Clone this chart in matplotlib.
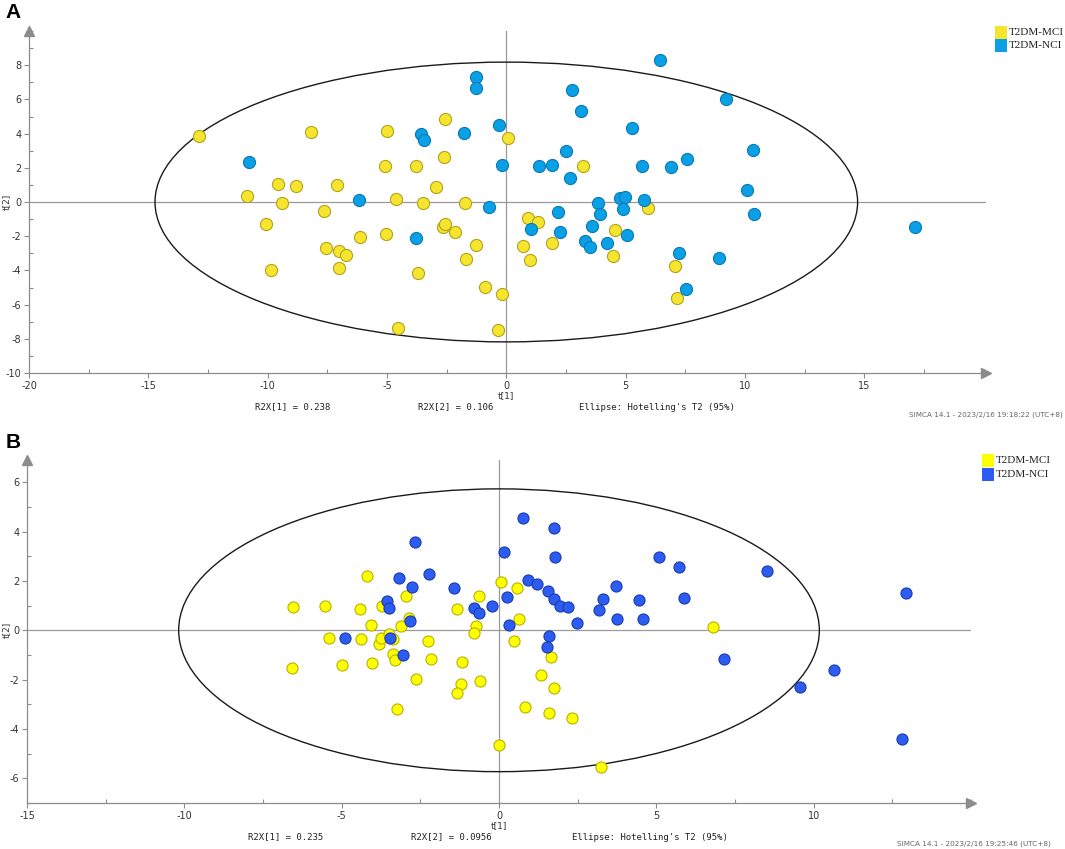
import numpy as np
import matplotlib
matplotlib.use("Agg")
import matplotlib.pyplot as plt
from matplotlib.patches import Ellipse, Rectangle
from matplotlib.ticker import MultipleLocator

plt.rcParams["axes.unicode_minus"] = False

W, H = 1065, 849

# ---- panel A scores (t[1], t[2]) ----
a_mci_t1 = [-12.87, -8.18, -10.88, -9.58, -8.83, -9.38, -7.10, -7.65, -10.06, -9.84,
            -7.54, -7.03, -6.71, -7.00, -6.12, -4.99, -5.09, -5.04, -4.61, -4.55,
            -3.79, -3.49, -3.72, -2.95, -2.58, -2.61, -2.64, -2.56, -2.16, -1.74,
            -1.69, -1.28, -0.91, -0.16, -0.33, 0.08, 0.90, 1.34, 0.70, 1.01,
            1.92, 3.20, 4.57, 4.47, 5.92, 7.05, 7.16]
a_mci_t2 = [3.84, 4.09, 0.33, 1.05, 0.95, -0.04, 1.01, -0.50, -1.26, -3.95,
            -2.69, -2.87, -3.08, -3.86, -2.03, 4.13, 2.13, -1.88, 0.16, -7.36,
            2.09, -0.08, -4.17, 0.85, 4.88, 2.66, -1.45, -1.30, -1.74, -0.08,
            -3.35, -2.50, -4.96, -5.39, -7.46, 3.76, -0.95, -1.16, -2.56, -3.39,
            -2.40, 2.09, -1.61, -3.16, -0.37, -3.72, -5.62]
a_nci_t1 = [-10.78, -6.18, -3.56, -3.44, -3.79, -1.25, -1.25, -1.79, -0.30, -0.16,
            -0.71, 1.05, 1.38, 1.92, 2.50, 2.65, 2.77, 3.14, 2.17, 2.23,
            3.28, 3.52, 3.59, 3.83, 3.94, 4.23, 4.78, 4.99, 4.87, 5.05,
            5.28, 5.67, 5.76, 6.44, 6.92, 7.59, 7.23, 7.55, 8.92, 9.22,
            10.08, 10.35, 10.39, 17.14]
a_nci_t2 = [2.31, 0.10, 3.97, 3.60, -2.13, 7.29, 6.65, 4.03, 4.50, 2.19,
            -0.29, -1.60, 2.09, 2.19, 2.98, 1.38, 6.53, 5.31, -0.56, -1.74,
            -2.27, -2.64, -1.41, -0.04, -0.70, -2.42, 0.23, 0.27, -0.43, -1.94,
            4.30, 2.09, 0.14, 8.33, 2.03, 2.52, -2.98, -5.10, -3.29, 6.01,
            0.68, 3.02, -0.70, -1.47]

# ---- panel B scores ----
b_mci_t1 = [-6.55, -6.59, -5.52, -5.41, -4.98, -4.43, -4.38, -4.18, -4.08, -4.03,
            -3.72, -3.80, -3.76, -3.50, -3.36, -3.37, -3.31, -3.25, -3.12, -2.95,
            -2.87, -2.65, -2.25, -2.15, -1.32, -1.19, -1.22, -1.34, -0.74, -0.80,
            -0.62, -0.59, 0.06, 0.01, 0.57, 0.65, 0.47, 0.83, 1.35, 1.65,
            1.75, 1.59, 2.32, 6.81, 3.24]
b_mci_t2 = [0.93, -1.52, 0.97, -0.30, -1.40, 0.87, -0.37, 2.20, 0.23, -1.33,
            0.97, -0.57, -0.30, -0.16, -0.37, -0.97, -1.22, -3.18, 0.19, 1.40,
            0.50, -1.96, -0.44, -1.16, 0.87, -1.27, -2.19, -2.56, 0.16, -0.10,
            1.37, -2.05, 1.96, -4.64, 1.73, 0.44, -0.44, -3.12, -1.80, -1.09,
            -2.35, -3.35, -3.54, 0.14, -5.56]
b_nci_t1 = [-4.89, -3.56, -3.50, -3.45, -3.18, -3.05, -2.84, -2.76, -2.67, -2.21,
            -1.42, -0.78, -0.62, -0.21, 0.17, 0.25, 0.32, 0.76, 0.93, 1.20,
            1.75, 1.77, 1.57, 1.75, 1.94, 2.20, 2.49, 1.59, 1.51, 3.18,
            3.30, 3.72, 3.74, 4.44, 4.58, 5.08, 5.73, 5.89, 7.14, 8.52,
            9.57, 10.66, 12.82, 12.95]
b_nci_t2 = [-0.30, 1.17, 0.90, -0.33, 2.10, -0.99, 0.37, 1.76, 3.59, 2.26,
            1.73, 0.90, 0.71, 0.97, 3.18, 1.33, 0.20, 4.56, 2.05, 1.89,
            4.15, 2.97, 1.59, 1.27, 0.99, 0.93, 0.30, -0.23, -0.67, 0.83,
            1.27, 1.80, 0.46, 1.24, 0.46, 2.97, 2.56, 1.29, -1.16, 2.39,
            -2.31, -1.62, -4.41, 1.50]

groups = ["T2DM-MCI", "T2DM-NCI"]
a_xticks = [-20, -15, -10, -5, 0, 5, 10, 15]
a_yticks = [-10, -8, -6, -4, -2, 0, 2, 4, 6, 8]
b_xticks = [-15, -10, -5, 0, 5, 10]
b_yticks = [-6, -4, -2, 0, 2, 4, 6]

panels = [
    dict(letter="A", mci=(a_mci_t1, a_mci_t2), nci=(a_nci_t1, a_nci_t2),
         xlim=(-20, 20.1), ylim=(-10, 10), xt=a_xticks, yt=a_yticks, ell=(14.72, 8.18),
         box=(29, 986, 373, 31), ms=76,
         cols=[("#f6e52e", "#b3a21c"), ("#0aa0e6", "#0a78b4")],
         r2x=("R2X[1] = 0.238", "R2X[2] = 0.106"), stamp="SIMCA 14.1 - 2023/2/16 19:18:22 (UTC+8)",
         txt_y=407, txt_x=(293, 456, 657), stamp_xy=(1063, 415), leg=(995, 26, 13)),
    dict(letter="B", mci=(b_mci_t1, b_mci_t2), nci=(b_nci_t1, b_nci_t2),
         xlim=(-15, 15), ylim=(-7, 6.9), xt=b_xticks, yt=b_yticks, ell=(10.18, 5.73),
         box=(27, 971, 803, 460), ms=64,
         cols=[("#ffff00", "#b5b300"), ("#2c5cf2", "#1a3cae")],
         r2x=("R2X[1] = 0.235", "R2X[2] = 0.0956"), stamp="SIMCA 14.1 - 2023/2/16 19:25:46 (UTC+8)",
         txt_y=837, txt_x=(286, 451, 650), stamp_xy=(1051, 844), leg=(982, 454, 14)),
]

fig = plt.figure(figsize=(W / 100, H / 100), dpi=100)

def fx(x):
    return x / W

def fy(y):
    return 1 - y / H

for p in panels:
    x0, x1, yb, yt = p["box"]
    ax = fig.add_axes([fx(x0), fy(yb), fx(x1) - fx(x0), fy(yt) - fy(yb)])
    ax.set_xlim(*p["xlim"])
    ax.set_ylim(*p["ylim"])
    for s in ["top", "right"]:
        ax.spines[s].set_visible(False)
    for s in ["left", "bottom"]:
        ax.spines[s].set_color("#8c8c8c")
        ax.spines[s].set_linewidth(0.9)
    # axis arrows
    ax.plot(1, p["ylim"][0], ">", color="#8c8c8c", ms=6.5, transform=ax.get_yaxis_transform(), clip_on=False)
    ax.plot(p["xlim"][0], 1, "^", color="#8c8c8c", ms=6.5, transform=ax.get_xaxis_transform(), clip_on=False)

    ax.axhline(0, color="#9a9a9a", lw=0.9, zorder=1)
    ax.axvline(0, color="#9a9a9a", lw=0.9, zorder=1)

    ax.set_xticks(p["xt"])
    ax.set_yticks(p["yt"])
    ax.xaxis.set_minor_locator(MultipleLocator(2.5))
    ax.yaxis.set_minor_locator(MultipleLocator(1))
    ax.tick_params(which="major", length=3.5, width=0.8, color="#8c8c8c", labelsize=7,
                   labelcolor="#333333", pad=2)
    ax.tick_params(which="minor", direction="in", length=3, width=0.8, color="#8c8c8c")

    ax.add_patch(Ellipse((0, 0), 2 * p["ell"][0], 2 * p["ell"][1], fill=False,
                         edgecolor="#1a1a1a", lw=1.0, zorder=2))

    for (t1, t2), (fc, ec) in zip([p["mci"], p["nci"]], p["cols"]):
        ax.scatter(t1, t2, s=p["ms"], c=fc, edgecolors=ec, linewidths=0.8, zorder=3, clip_on=False)

    # axis titles, panel letter
    xz = x0 + (0 - p["xlim"][0]) / (p["xlim"][1] - p["xlim"][0]) * (x1 - x0)
    yz = yb - (0 - p["ylim"][0]) / (p["ylim"][1] - p["ylim"][0]) * (yb - yt)
    fig.text(fx(xz), fy(yb + 23), "t[1]", ha="center", va="center", fontsize=6.5, color="#333333")
    fig.text(fx(6), fy(yz), "t[2]", rotation=90, ha="center", va="center", fontsize=6.5, color="#333333")
    fig.text(fx(13), fy(yt - 18), p["letter"], ha="center", va="center", fontsize=15,
             fontweight="bold", family="Liberation Sans")

    for xx, s in zip(p["txt_x"], list(p["r2x"]) + ["Ellipse: Hotelling's T2 (95%)"]):
        fig.text(fx(xx), fy(p["txt_y"]), s, ha="center", va="center", fontsize=6.5,
                 family="DejaVu Sans Mono", color="#222222")
    fig.text(fx(p["stamp_xy"][0]), fy(p["stamp_xy"][1]), p["stamp"], ha="right", va="center",
             fontsize=5.2, color="#666666")

    lx, ly, dy = p["leg"]
    for i, (g, (fc, ec)) in enumerate(zip(groups, p["cols"])):
        fig.patches.append(Rectangle((fx(lx), fy(ly + i * dy + 13)), 12 / W, 13 / H,
                                     transform=fig.transFigure, facecolor=fc, edgecolor="none"))
        fig.text(fx(lx + 14), fy(ly + i * dy + 6.5), g, ha="left", va="center", fontsize=8,
                 family="Liberation Serif", color="#222222")

fig.savefig("out.png", dpi=100)
